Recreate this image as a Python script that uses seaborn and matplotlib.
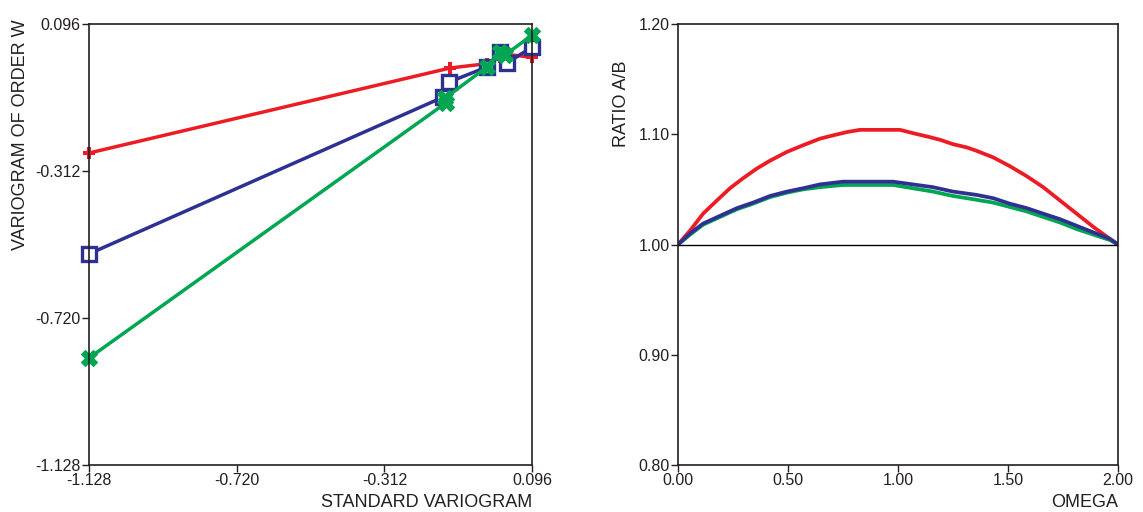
import numpy as np
import pandas as pd
import matplotlib
matplotlib.use("Agg")
import matplotlib.pyplot as plt
import seaborn as sns

sns.set_style("white")
plt.rcParams['font.family'] = ['Liberation Sans', 'DejaVu Sans']

# left panel: variogram of order w vs standard variogram
red_x = [-1.128, -0.130, -0.028, 0.008, 0.021, 0.096]
red_y = [-0.262, -0.026, -0.014, 0.004, 0.012, 0.004]
blue_x = [-1.128, -0.150, -0.133, -0.028, 0.008, 0.027, 0.096]
blue_y = [-0.542, -0.107, -0.065, -0.023, 0.018, -0.012, 0.032]
green_x = [-1.128, -0.142, -0.145, -0.028, 0.008, 0.021, 0.096]
green_y = [-0.831, -0.123, -0.110, -0.023, 0.018, 0.010, 0.065]
var_ticks = [-1.128, -0.720, -0.312, 0.096]

# right panel: ratio A/B vs omega
omega_red = [0.0, 0.055, 0.114, 0.177, 0.236, 0.295, 0.359, 0.418, 0.495, 0.568, 0.645,
             0.705, 0.768, 0.827, 1.009, 1.068, 1.132, 1.191, 1.25, 1.314, 1.357,
             1.433, 1.509, 1.585, 1.66, 1.736, 1.812, 1.888, 1.964, 2.0]
ratio_red = [1.000, 1.0127, 1.028, 1.040, 1.051, 1.060, 1.069, 1.076, 1.084, 1.090, 1.096,
             1.099, 1.102, 1.104, 1.104, 1.101, 1.098, 1.095, 1.091, 1.088, 1.085,
             1.079, 1.071, 1.062, 1.052, 1.040, 1.028, 1.016, 1.005, 1.0]
omega_blue = [0.0, 0.055, 0.114, 0.191, 0.268, 0.341, 0.418, 0.495, 0.568, 0.645, 0.75,
              0.977, 1.068, 1.159, 1.25, 1.357, 1.433, 1.509, 1.585, 1.66, 1.736,
              1.812, 1.888, 1.964, 2.0]
ratio_blue = [1.0, 1.010, 1.019, 1.026, 1.033, 1.038, 1.044, 1.048, 1.051, 1.0545, 1.057,
              1.057, 1.0545, 1.052, 1.048, 1.045, 1.042, 1.037, 1.033, 1.028, 1.023,
              1.017, 1.011, 1.005, 1.0]
omega_green = [0.0, 0.055, 0.114, 0.191, 0.268, 0.341, 0.418, 0.495, 0.568, 0.645, 0.75,
               0.977, 1.068, 1.159, 1.25, 1.314, 1.433, 1.509, 1.585, 1.66, 1.736,
               1.812, 1.888, 1.964, 2.0]
ratio_green = [1.0, 1.009, 1.018, 1.025, 1.032, 1.037, 1.043, 1.047, 1.050, 1.052, 1.054,
               1.054, 1.051, 1.048, 1.044, 1.042, 1.038, 1.034, 1.030, 1.025, 1.020,
               1.014, 1.009, 1.004, 1.0]
omega_ticks = [0.0, 0.5, 1.0, 1.5, 2.0]
ratio_ticks = [0.8, 0.9, 1.0, 1.1, 1.2]

RED = '#ED1C24'
BLUE = '#2E3192'
GREEN = '#00A651'
INK = '#231F20'

fig = plt.figure(figsize=(11.43, 5.12), dpi=100)
ax1 = fig.add_axes([0.0779, 0.0918, 0.3876, 0.8613])
ax2 = fig.add_axes([0.5932, 0.0918, 0.3849, 0.8613])

sns.lineplot(x=red_x, y=red_y, ax=ax1, color=RED, lw=2.5, sort=False, estimator=None,
             marker='P', markersize=9, markeredgewidth=0, markerfacecolor=RED, clip_on=False)
sns.lineplot(x=blue_x, y=blue_y, ax=ax1, color=BLUE, lw=2.5, sort=False, estimator=None,
             marker='s', markersize=10, markeredgewidth=2.4, markerfacecolor='white',
             markeredgecolor=BLUE, clip_on=False)
sns.lineplot(x=green_x, y=green_y, ax=ax1, color=GREEN, lw=2.5, sort=False, estimator=None,
             marker='X', markersize=11, markeredgewidth=0.8, markerfacecolor=GREEN,
             markeredgecolor=GREEN, clip_on=False)

ax1.set_xlim(-1.128, 0.096)
ax1.set_ylim(-1.128, 0.096)
ax1.set_xticks(var_ticks)
ax1.set_yticks(var_ticks)
ax1.set_xticklabels([f"{v:.3f}" for v in var_ticks])
ax1.set_yticklabels([f"{v:.3f}" for v in var_ticks])
ax1.set_xlabel("STANDARD VARIOGRAM", fontsize=13, ha='right', color=INK)
ax1.xaxis.set_label_coords(1.0, -0.065)
ax1.set_ylabel("VARIOGRAM OF ORDER W", fontsize=13, ha='right', color=INK)
ax1.yaxis.set_label_coords(-0.135, 1.01)

sns.lineplot(x=omega_red, y=ratio_red, ax=ax2, color=RED, lw=2.7, sort=False, estimator=None)
sns.lineplot(x=omega_green, y=ratio_green, ax=ax2, color=GREEN, lw=2.7, sort=False, estimator=None)
sns.lineplot(x=omega_blue, y=ratio_blue, ax=ax2, color=BLUE, lw=2.7, sort=False, estimator=None)
ax2.axhline(1.0, color='black', lw=1)

ax2.set_xlim(0, 2)
ax2.set_ylim(0.8, 1.2)
ax2.set_xticks(omega_ticks)
ax2.set_yticks(ratio_ticks)
ax2.set_xticklabels([f"{v:.2f}" for v in omega_ticks])
ax2.set_yticklabels([f"{v:.2f}" for v in ratio_ticks])
ax2.set_xlabel("OMEGA", fontsize=13, ha='right', color=INK)
ax2.xaxis.set_label_coords(1.0, -0.065)
ax2.set_ylabel("RATIO A/B", fontsize=13, ha='right', color=INK)
ax2.yaxis.set_label_coords(-0.11, 0.918)

for ax in (ax1, ax2):
    for sp in ax.spines.values():
        sp.set_visible(True)
        sp.set_color(INK)
        sp.set_linewidth(1.2)
    ax.tick_params(direction='out', length=5, width=1, pad=1, labelsize=11.5,
                   colors=INK, left=True, bottom=True)

fig.savefig("out.png", dpi=100)
